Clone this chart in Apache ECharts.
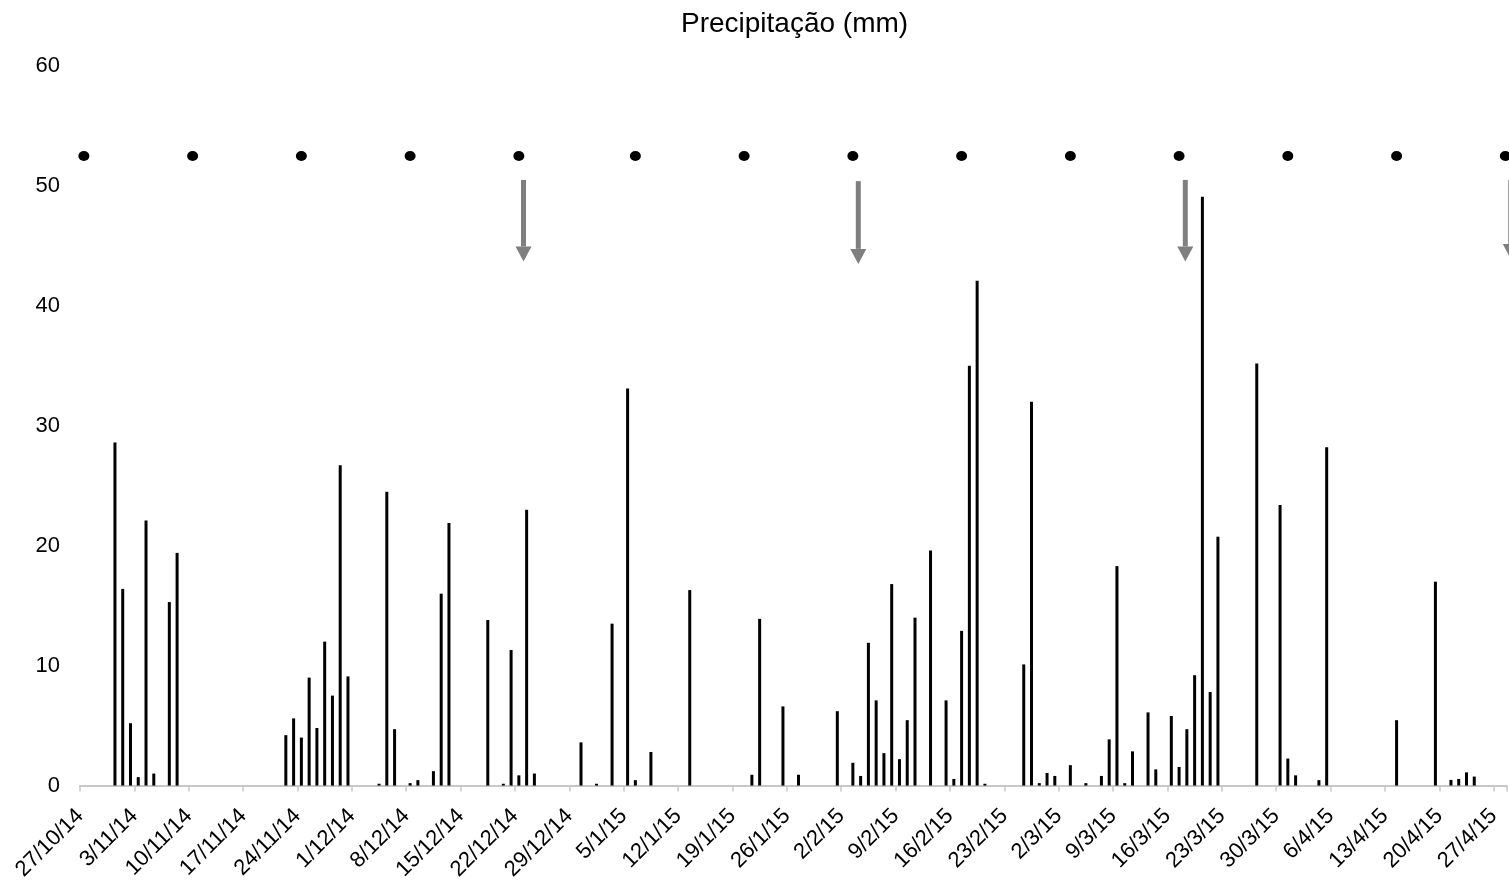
<!DOCTYPE html>
<html><head><meta charset="utf-8">
<script src="https://cdn.jsdelivr.net/npm/echarts@6/dist/echarts.min.js"></script>
<style>html,body{margin:0;padding:0;background:#fff}#chart{width:1509px;height:883px}</style>
</head><body><div id="chart"></div>
<script>
// Day 0 of the x axis
const startDate = '27/10/14';

// Weekly tick labels (every 7 days from the start date)
const tickLabels = ['27/10/14','3/11/14','10/11/14','17/11/14','24/11/14','1/12/14','8/12/14','15/12/14','22/12/14','29/12/14','5/1/15','12/1/15','19/1/15','26/1/15','2/2/15','9/2/15','16/2/15','23/2/15','2/3/15','9/3/15','16/3/15','23/3/15','30/3/15','6/4/15','13/4/15','20/4/15','27/4/15'];

// Daily precipitation (mm) – only days with rain
const rainDates = ['31/10/14','1/11/14','2/11/14','3/11/14','4/11/14','5/11/14','7/11/14','8/11/14',
  '22/11/14','23/11/14','24/11/14','25/11/14','26/11/14','27/11/14','28/11/14','29/11/14','30/11/14',
  '4/12/14','5/12/14','6/12/14','8/12/14','9/12/14','11/12/14','12/12/14','13/12/14','18/12/14','20/12/14','21/12/14','22/12/14','23/12/14','24/12/14','30/12/14',
  '1/1/15','3/1/15','5/1/15','6/1/15','8/1/15','13/1/15','21/1/15','22/1/15','25/1/15','27/1/15',
  '1/2/15','3/2/15','4/2/15','5/2/15','6/2/15','7/2/15','8/2/15','9/2/15','10/2/15','11/2/15','13/2/15','15/2/15','16/2/15','17/2/15','18/2/15','19/2/15','20/2/15','25/2/15','26/2/15','27/2/15','28/2/15',
  '1/3/15','3/3/15','5/3/15','7/3/15','8/3/15','9/3/15','10/3/15','11/3/15','13/3/15','14/3/15','16/3/15','17/3/15','18/3/15','19/3/15','20/3/15','21/3/15','22/3/15','27/3/15','30/3/15','31/3/15',
  '1/4/15','4/4/15','5/4/15','14/4/15','19/4/15','21/4/15','22/4/15','23/4/15','24/4/15'];
const rainMm = [28.6,16.4,5.2,0.7,22.1,1.0,15.3,19.4,
  4.2,5.6,4.0,9.0,4.8,12.0,7.5,26.7,9.1,
  0.15,24.5,4.7,0.2,0.45,1.2,16.0,21.9,13.8,0.15,11.3,0.85,23.0,1.0,3.6,
  0.15,13.5,33.1,0.45,2.8,16.3,0.9,13.9,6.6,0.9,
  6.2,1.9,0.8,11.9,7.1,2.7,16.8,2.2,5.45,14.0,19.6,7.1,0.55,12.9,35.0,42.1,0.15,10.1,32.0,0.2,1.05,
  0.8,1.7,0.2,0.8,3.85,18.3,0.2,2.85,6.1,1.35,5.8,1.55,4.7,9.2,49.1,7.8,20.75,35.2,23.4,2.25,
  0.85,0.45,28.2,5.45,17.0,0.47,0.55,1.1,0.75];

// Sampling dates (dots) and their plotted level
const dotDates = ['27/10/14','10/11/14','24/11/14','8/12/14','22/12/14','6/1/15','20/1/15','3/2/15','17/2/15','3/3/15','17/3/15','31/3/15','14/4/15','28/4/15'];
const dotLevel = 52.5;

// Arrow annotations: position in days from start, top and tip levels
const arrowDays = [57.1, 100.2, 142.3, 184.2];
const arrowTop = [50.5, 50.4, 50.5, 50.5];
const arrowTip = [43.7, 43.5, 43.7, 43.9];

function parseDate(s) {
  const p = s.split('/').map(Number);
  return Date.UTC(2000 + p[2], p[1] - 1, p[0]);
}
const t0 = parseDate(startDate);
function dayOf(s) { return Math.round((parseDate(s) - t0) / 86400000); }

const barData = rainDates.map((d, i) => [dayOf(d) + 0.5, rainMm[i]]);
const dotData = dotDates.map(d => [dayOf(d) + 0.5, dotLevel]);
const arrowData = arrowDays.map((d, i) => [d, arrowTop[i], arrowTip[i]]);

const chart = echarts.init(document.getElementById('chart'), null, {renderer: 'canvas'});
const FONT = 'Liberation Sans, Arial, sans-serif';
chart.setOption({
  animation: false,
  backgroundColor: '#ffffff',
  title: {
    text: 'Precipitação (mm)',
    left: 676, top: 5,
    textStyle: {fontFamily: FONT, fontSize: 28, fontWeight: 'normal', color: '#000'}
  },
  grid: {left: 80, right: 0, top: 66, bottom: 95, containLabel: false},
  xAxis: {
    type: 'value', min: 0, max: 183.7, interval: 7,
    splitLine: {show: false},
    axisLine: {show: true, lineStyle: {color: '#c8c8c8', width: 2}},
    axisTick: {show: true, length: 6, lineStyle: {color: '#c8c8c8', width: 1.5}},
    axisLabel: {
      rotate: 45, margin: 27, fontFamily: FONT, fontSize: 22, color: '#000',
      showMaxLabel: true, showMinLabel: true,
      formatter: v => {
        const k = Math.round(v / 7);
        return Math.abs(v - k * 7) < 1e-6 && tickLabels[k] ? tickLabels[k] : '';
      }
    }
  },
  yAxis: {
    type: 'value', min: 0, max: 60, interval: 10,
    splitLine: {show: false},
    axisLine: {show: false}, axisTick: {show: false},
    axisLabel: {margin: 20, fontFamily: FONT, fontSize: 22, color: '#000'}
  },
  series: [
    {type: 'bar', data: barData, barWidth: 3, itemStyle: {color: '#000'}, silent: true},
    {type: 'scatter', data: dotData, symbol: 'circle', symbolSize: [11, 10], itemStyle: {color: '#000', opacity: 1}, silent: true},
    {type: 'custom', data: arrowData, silent: true, clip: false,
      encode: {x: 0, y: 1},
      renderItem: (params, api) => {
        const p1 = api.coord([api.value(0), api.value(1)]);
        const p2 = api.coord([api.value(0), api.value(2)]);
        const headLen = 15, headW = 16, shaftW = 5;
        return {type: 'group', children: [
          {type: 'rect', shape: {x: p1[0] - shaftW / 2, y: p1[1], width: shaftW, height: p2[1] - headLen - p1[1]}, style: {fill: '#7f7f7f'}},
          {type: 'polygon', shape: {points: [[p1[0] - headW / 2, p2[1] - headLen], [p1[0] + headW / 2, p2[1] - headLen], [p1[0], p2[1]]]}, style: {fill: '#7f7f7f'}}
        ]};
      }
    }
  ]
});
</script></body></html>
